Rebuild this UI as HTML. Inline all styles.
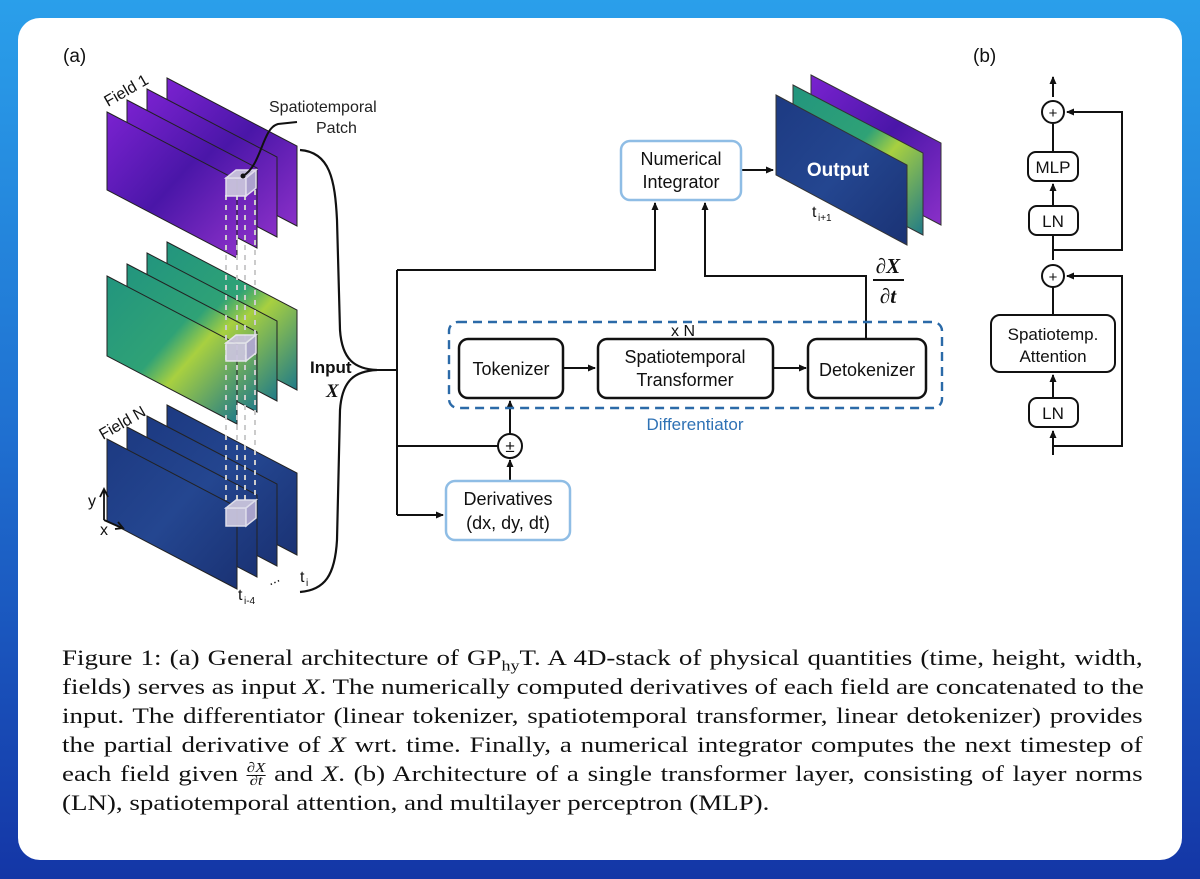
<!DOCTYPE html>
<html><head><meta charset="utf-8"><style>
html,body{margin:0;padding:0;}
body{width:1200px;height:879px;background:linear-gradient(180deg,#2a9fea 0%,#1f6fd0 50%,#1436a6 100%);position:relative;overflow:hidden;font-family:"Liberation Sans",sans-serif;}
.card{position:absolute;left:18px;top:18px;width:1164px;height:842px;background:#fff;border-radius:22px;}
.cap{position:absolute;left:62px;top:643px;width:902px;transform:scaleX(1.198);transform-origin:0 0;font-family:"Liberation Serif",serif;font-size:22.5px;color:#111;line-height:29px;}
.cap div{text-align:justify;text-align-last:justify;white-space:nowrap;height:29px;}
.cap div.l{text-align-last:left;}
.cap sub{font-size:15px;line-height:0;}
svg{position:absolute;left:0;top:0;}
</style></head><body>
<div class="card"></div>
<svg width="1200" height="879" viewBox="0 0 1200 879" font-family="Liberation Sans, sans-serif">
<defs>
<marker id="ah" markerWidth="8" markerHeight="8" refX="7" refY="4" orient="auto" markerUnits="userSpaceOnUse"><path d="M0,0.5 L8,4 L0,7.5 z" fill="#111"/></marker>
<linearGradient id="gp" x1="0" y1="0" x2="1" y2="1"><stop offset="0" stop-color="#7a22d0"/><stop offset="0.5" stop-color="#4a16a8"/><stop offset="1" stop-color="#8a30c8"/></linearGradient>
<linearGradient id="gg" x1="0" y1="0" x2="1" y2="1"><stop offset="0" stop-color="#22957e"/><stop offset="0.45" stop-color="#2fa276"/><stop offset="0.6" stop-color="#a8d040"/><stop offset="1" stop-color="#1f7a88"/></linearGradient>
<linearGradient id="gb" x1="0" y1="0" x2="1" y2="1"><stop offset="0" stop-color="#1d3a82"/><stop offset="0.5" stop-color="#244690"/><stop offset="1" stop-color="#1a3274"/></linearGradient>
</defs>
<text x="63" y="62" font-size="19" fill="#111">(a)</text>
<text x="973" y="62" font-size="19" fill="#111">(b)</text>

<g stroke="#222" stroke-width="1">
<polygon points="167,78 297,146 297,226 167,158" fill="url(#gp)"/>
<polygon points="147,89 277,157 277,237 147,169" fill="url(#gp)"/>
<polygon points="127,100 257,168 257,248 127,180" fill="url(#gp)"/>
<polygon points="107,112 237,180 237,258 107,190" fill="url(#gp)"/>
</g>
<text x="0" y="0" font-size="16" fill="#111" transform="translate(108,107) rotate(-30)">Field 1</text>
<g stroke="#222" stroke-width="1">
<polygon points="167,242 297,310 297,390 167,322" fill="url(#gg)"/>
<polygon points="147,253 277,321 277,401 147,333" fill="url(#gg)"/>
<polygon points="127,264 257,332 257,412 127,344" fill="url(#gg)"/>
<polygon points="107,276 237,344 237,424 107,356" fill="url(#gg)"/>
</g>
<g stroke="#222" stroke-width="1">
<polygon points="167,405 297,473 297,555 167,487" fill="url(#gb)"/>
<polygon points="147,416 277,484 277,566 147,498" fill="url(#gb)"/>
<polygon points="127,427 257,495 257,577 127,509" fill="url(#gb)"/>
<polygon points="107,439 237,507 237,589 107,521" fill="url(#gb)"/>
</g>
<text font-size="16" fill="#111" transform="translate(103,440) rotate(-30)">Field N</text>
<g stroke="#ccc" stroke-width="2" stroke-dasharray="5,5">
<line x1="226" y1="195" x2="226" y2="505"/><line x1="237" y1="195" x2="237" y2="505"/>
<line x1="245" y1="195" x2="245" y2="505"/><line x1="255" y1="190" x2="255" y2="500"/>
</g>
<g fill="#c9c4dc" stroke="#e8e6f0" stroke-width="1.5" opacity="0.95">
<rect x="226" y="178" width="20" height="18"/><polygon points="226,178 236,170 256,170 246,178"/><polygon points="246,178 256,170 256,188 246,196" fill="#b0a8d0"/>
<rect x="226" y="343" width="20" height="18"/><polygon points="226,343 236,335 256,335 246,343"/><polygon points="246,343 256,335 256,353 246,361" fill="#b0a8d0"/>
<rect x="226" y="508" width="20" height="18"/><polygon points="226,508 236,500 256,500 246,508"/><polygon points="246,508 256,500 256,518 246,526" fill="#b0a8d0"/>
</g>
<path d="M243,176 C262,165 262,128 278,124 L297,122" fill="none" stroke="#111" stroke-width="2"/>
<circle cx="243" cy="176" r="2.5" fill="#111"/>
<text x="269" y="112" font-size="16" fill="#222">Spatiotemporal</text>
<text x="316" y="133" font-size="16" fill="#222">Patch</text>
<path d="M104,520 L104,490 M100,497 L104,489 L108,497 M104,520 L122,528 M115,529 L123,528 L118,522" fill="none" stroke="#111" stroke-width="1.8"/>
<text x="88" y="506" font-size="16" fill="#111">y</text>
<text x="100" y="535" font-size="16" fill="#111">x</text>
<text x="300" y="582" font-size="16" fill="#111">t</text><text x="306" y="586" font-size="10" fill="#111">i</text>
<text x="238" y="600" font-size="16" fill="#111">t</text><text x="244" y="604" font-size="10" fill="#111">i-4</text>
<text x="268" y="583" font-size="14" fill="#111" transform="rotate(-25 275 580)">...</text>
<path d="M300,150 C330,152 335,180 337,220 L340,330 C342,360 355,369 377,370 C355,371 342,380 340,410 L337,540 C335,575 325,590 300,592" fill="none" stroke="#111" stroke-width="2.2"/>
<text x="310" y="373" font-size="17" font-weight="bold" fill="#111">Input</text>
<text x="326" y="397" font-size="19" font-weight="bold" font-style="italic" font-family="Liberation Serif, serif" fill="#111">X</text>
<g stroke="#111" stroke-width="2" fill="none">
<line x1="377" y1="370" x2="397" y2="370"/>
<line x1="397" y1="270" x2="397" y2="515"/>
<polyline points="397,270 655,270 655,203" marker-end="url(#ah)"/>
<line x1="397" y1="446" x2="498" y2="446"/>
<line x1="397" y1="515" x2="443" y2="515" marker-end="url(#ah)"/>
<line x1="510" y1="480" x2="510" y2="460" marker-end="url(#ah)"/>
<line x1="510" y1="434" x2="510" y2="401" marker-end="url(#ah)"/>
<line x1="563" y1="368" x2="595" y2="368" marker-end="url(#ah)"/>
<line x1="773" y1="368" x2="806" y2="368" marker-end="url(#ah)"/>
<polyline points="866,339 866,276 705,276 705,203" marker-end="url(#ah)"/>
<line x1="742" y1="170" x2="773" y2="170" marker-end="url(#ah)"/>
</g>
<circle cx="510" cy="446" r="12" fill="#fff" stroke="#111" stroke-width="2"/>
<text x="510" y="452" font-size="17" text-anchor="middle" fill="#111">±</text>
<rect x="449" y="322" width="493" height="86" rx="9" fill="none" stroke="#2b6aa8" stroke-width="2.4" stroke-dasharray="9,6"/>
<text x="683" y="336" font-size="16" text-anchor="middle" fill="#111">x N</text>
<text x="695" y="430" font-size="17" text-anchor="middle" fill="#2f72b5">Differentiator</text>
<g fill="#fff" stroke="#111" stroke-width="2.5">
<rect x="459" y="339" width="104" height="59" rx="9"/>
<rect x="598" y="339" width="175" height="59" rx="9"/>
<rect x="808" y="339" width="118" height="59" rx="9"/>
</g>
<g font-size="18" fill="#111" text-anchor="middle">
<text x="511" y="375">Tokenizer</text>
<text x="685" y="363">Spatiotemporal</text>
<text x="685" y="386">Transformer</text>
<text x="867" y="376">Detokenizer</text>
</g>
<rect x="446" y="481" width="124" height="59" rx="9" fill="#fff" stroke="#8fbde5" stroke-width="2.5"/>
<text x="508" y="505" font-size="18" text-anchor="middle" fill="#111">Derivatives</text>
<text x="508" y="529" font-size="18" text-anchor="middle" fill="#111">(dx, dy, dt)</text>
<rect x="621" y="141" width="120" height="59" rx="9" fill="#fff" stroke="#8fbde5" stroke-width="2.5"/>
<text x="681" y="165" font-size="18" text-anchor="middle" fill="#111">Numerical</text>
<text x="681" y="188" font-size="18" text-anchor="middle" fill="#111">Integrator</text>
<g font-family="Liberation Serif, serif" font-style="italic" font-weight="bold" font-size="21" fill="#111" text-anchor="middle">
<text x="888" y="273">∂X</text>
<text x="888" y="303">∂t</text>
</g>
<line x1="873" y1="280" x2="904" y2="280" stroke="#111" stroke-width="2"/>
<g stroke="#333" stroke-width="1">
<polygon points="811,75 941,143 941,225 811,157" fill="url(#gp)"/>
<polygon points="793,85 923,153 923,235 793,167" fill="url(#gg)"/>
<polygon points="776,95 907,165 907,245 776,175" fill="url(#gb)"/>
</g>
<text x="838" y="176" font-size="19" font-weight="bold" text-anchor="middle" fill="#fff">Output</text>
<text x="812" y="217" font-size="16" fill="#111">t</text><text x="818" y="221" font-size="10" fill="#111">i+1</text>

<g stroke="#111" stroke-width="2" fill="none">
<line x1="1053" y1="97" x2="1053" y2="77" marker-end="url(#ah)"/>
<line x1="1053" y1="124" x2="1053" y2="152"/>
<line x1="1053" y1="205" x2="1053" y2="184" marker-end="url(#ah)"/>
<line x1="1053" y1="235" x2="1053" y2="260"/>
<polyline points="1053,250 1122,250 1122,112 1067,112" marker-end="url(#ah)"/>
<line x1="1053" y1="284" x2="1053" y2="315"/>
<line x1="1053" y1="397" x2="1053" y2="375" marker-end="url(#ah)"/>
<line x1="1053" y1="455" x2="1053" y2="431" marker-end="url(#ah)"/>
<polyline points="1053,446 1122,446 1122,276 1067,276" marker-end="url(#ah)"/>
</g>
<g fill="#fff" stroke="#111" stroke-width="2">
<circle cx="1053" cy="112" r="11"/>
<circle cx="1053" cy="276" r="11"/>
<rect x="1028" y="152" width="50" height="29" rx="8"/>
<rect x="1029" y="206" width="49" height="29" rx="8"/>
<rect x="991" y="315" width="124" height="57" rx="9"/>
<rect x="1029" y="398" width="49" height="29" rx="8"/>
</g>
<g font-size="17" fill="#111" text-anchor="middle">
<text x="1053" y="118" font-size="15">+</text>
<text x="1053" y="282" font-size="15">+</text>
<text x="1053" y="173">MLP</text>
<text x="1053" y="227">LN</text>
<text x="1053" y="340">Spatiotemp.</text>
<text x="1053" y="362">Attention</text>
<text x="1053" y="419">LN</text>
</g>
</svg>
<div class="cap">
<div>Figure 1: (a) General architecture of GP<sub>hy</sub>T. A 4D-stack of physical quantities (time, height, width,</div>
<div>fields) serves as input <i>X</i>. The numerically computed derivatives of each field are concatenated to the</div>
<div>input. The differentiator (linear tokenizer, spatiotemporal transformer, linear detokenizer) provides</div>
<div>the partial derivative of <i>X</i> wrt. time. Finally, a numerical integrator computes the next timestep of</div>
<div>each field given <span style="display:inline-block;vertical-align:middle;font-size:14px;line-height:12px;text-align:center;text-align-last:center"><i>∂X</i><br><span style="border-top:1px solid #111;display:block"><i>∂t</i></span></span> and <i>X</i>. (b) Architecture of a single transformer layer, consisting of layer norms</div>
<div class="l">(LN), spatiotemporal attention, and multilayer perceptron (MLP).</div>
</div>
</body></html>
